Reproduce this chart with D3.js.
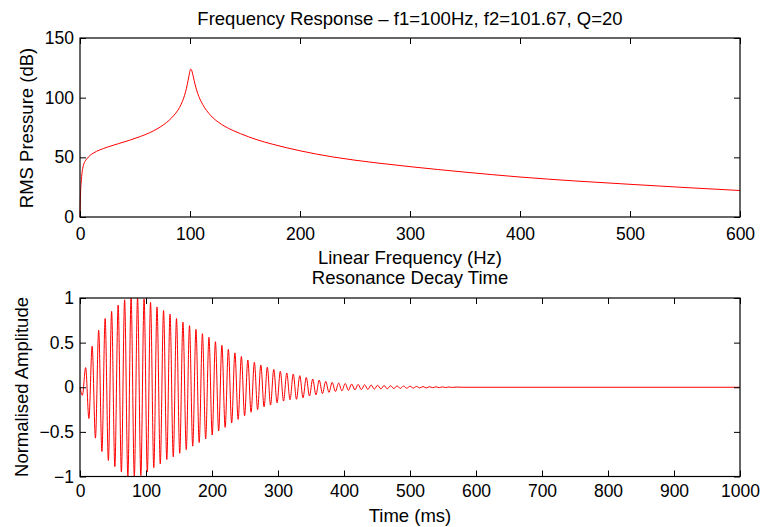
<!DOCTYPE html>
<html><head><meta charset="utf-8">
<script src="https://cdn.jsdelivr.net/npm/d3@7"></script>
<style>
body{margin:0;background:#fff}
text{font-family:"Liberation Sans",Arial,Helvetica,sans-serif;fill:#000}
</style>
</head><body>
<svg id="c" width="762" height="527"></svg>
<script>
// ---- Top: frequency response ----
const freqHz = [0,0.2,0.5,1,1.5,2,3,4.5,6,9,12,18,25,35,45,55,63,70,76,81,85,89,92,94,96,97.5,99,100.6,102,103,104.5,106,108,110,113,117,121,126,131,139,146,160,175,200,230,270,300,350,400,450,500,550,600];
const pressureDb = [0,10,20,28,34,38,43,46.5,48.5,51.5,53.5,56.2,58.6,61.5,64.3,67.5,70.5,73.8,77.3,81,84.8,89.5,94.5,99,105,111,118,124,121.5,117.5,111.5,106.5,101,97,92,87,83,79.3,76.3,72.5,69.8,65,61,55.5,50.3,45.3,42.2,37.6,33.5,30.2,27.4,24.7,22.2];
const freqTicks = [0,100,200,300,400,500,600];
const dbTicks = [0,50,100,150];

// ---- Bottom: decay (extrema of the oscillation) ----
const timeMs = [0,3.6,8.6,13.5,18.4,23.4,28.3,33.2,38.1,43.0,47.9,52.8,57.8,62.7,67.6,72.5,77.4,82.3,87.2,92.2,97.1,102,106.9,111.8,116.7,121.6,126.6,131.5,136.4,141.3,146.2,151.1,156,161,165.9,170.8,175.7,180.6,185.5,190.4,195.4,200.3,205.2,210.1,215,219.9,224.8,229.8,234.7,239.6,244.5,249.4,254.3,259.2,264.2,269.1,274,278.9,283.8,288.7,293.6,298.6,303.5,308.4,313.3,318.2,323.1,328,333,337.9,342.8,347.7,352.6,357.5,362.4,367.4,372.3,377.2,382.1,387,391.9,396.8,401.8,406.7,411.6,416.5,421.4,426.3,431.2,436.2,441.1,446,450.9,455.8,460.7,465.6,470.6,475.5,480.4,485.3,490.2,495.1,500,505,509.9,514.8,519.7,524.6,529.5,534.4,539.4,544.3,549.2,554.1,559,564,570,580,1000];
const amplitude = [0,-0.09,0.22,-0.35,0.46,-0.57,0.64,-0.72,0.77,-0.82,0.85,-0.89,0.92,-0.95,0.98,-1.0,1.0,-1.0,1.0,-0.99,0.99,-0.95,0.95,-0.90,0.90,-0.86,0.86,-0.81,0.82,-0.78,0.77,-0.74,0.73,-0.70,0.69,-0.66,0.65,-0.62,0.60,-0.58,0.56,-0.535,0.51,-0.49,0.47,-0.45,0.425,-0.40,0.385,-0.36,0.345,-0.32,0.305,-0.28,0.28,-0.25,0.25,-0.22,0.225,-0.20,0.2,-0.175,0.18,-0.155,0.16,-0.14,0.148,-0.135,0.13,-0.118,0.11,-0.098,0.092,-0.085,0.08,-0.07,0.066,-0.057,0.055,-0.048,0.047,-0.04,0.042,-0.034,0.036,-0.03,0.032,-0.027,0.028,-0.024,0.025,-0.021,0.022,-0.019,0.019,-0.017,0.017,-0.015,0.015,-0.013,0.013,-0.011,0.011,-0.009,0.009,-0.008,0.008,-0.007,0.006,-0.005,0.005,-0.004,0.004,-0.003,0.003,-0.002,0.002,0,0];
const timeTicks = [0,100,200,300,400,500,600,700,800,900,1000];
const ampTicks = [-1,-0.5,0,0.5,1];

const svg = d3.select("#c");
const FS = 17.5, FL = 18.5;
const L = 80, R = 740;
const top1 = 38, bot1 = 217;
const top2 = 298, bot2 = 476.5;

function fmt(v){ return String(v).replace("-", "\u2212"); }

function panel(xDom, yDom, xt, yt, y0, y1, padX, xs, ys, curve){
  const x = d3.scaleLinear().domain(xDom).range([L, R]);
  const y = d3.scaleLinear().domain(yDom).range([y1, y0]);
  const g = svg.append("g");
  const line = d3.line().x((d,i)=>x(xs[i])).y((d,i)=>y(ys[i])).curve(curve);
  g.append("path").datum(xs).attr("d", line)
    .attr("fill","none").attr("stroke","#ff0000").attr("stroke-width",1);
  const style = s => { s.select(".domain").remove();
    s.selectAll("line").attr("stroke","#000").attr("stroke-width",1);
    s.selectAll("text").attr("font-size",FS).attr("fill","#000").style("font-family",'"Liberation Sans",Arial,sans-serif'); };
  g.append("g").attr("transform",`translate(0,${y1})`)
    .call(d3.axisBottom(x).tickValues(xt).tickSize(-6).tickPadding(padX).tickFormat(fmt)).call(style);
  g.append("g").attr("transform",`translate(0,${y0})`)
    .call(d3.axisTop(x).tickValues(xt).tickSize(-6).tickFormat("")).call(style);
  g.append("g").attr("transform",`translate(${L},0)`)
    .call(d3.axisLeft(y).tickValues(yt).tickSize(-6).tickPadding(6).tickFormat(fmt)).call(style);
  g.append("g").attr("transform",`translate(${R},0)`)
    .call(d3.axisRight(y).tickValues(yt).tickSize(-6).tickFormat("")).call(style);
  g.append("rect").attr("x",L).attr("y",y0).attr("width",R-L).attr("height",y1-y0)
    .attr("fill","none").attr("stroke","#000").attr("stroke-width",1.2);
  return {x,y};
}

panel([0,600],[0,150],freqTicks,dbTicks,top1,bot1,10.5,freqHz,pressureDb,d3.curveMonotoneX);
panel([0,1000],[-1,1],timeTicks,ampTicks,top2,bot2,8.5,timeMs,amplitude,d3.curveMonotoneX);

function label(txt,x,y,rot){
  const t = svg.append("text").attr("font-size",FL).attr("text-anchor","middle")
    .attr("dominant-baseline","central").text(txt);
  if(rot) t.attr("transform",`translate(${x},${y}) rotate(-90)`);
  else t.attr("x",x).attr("y",y);
}
label("Frequency Response \u2013 f1=100Hz, f2=101.67, Q=20",410,18);
label("Linear Frequency (Hz)",410,257);
label("Resonance Decay Time",410,277);
label("Time (ms)",410,515);
label("RMS Pressure (dB)",26,128,true);
label("Normalised Amplitude",21,387,true);
</script>
</body></html>
